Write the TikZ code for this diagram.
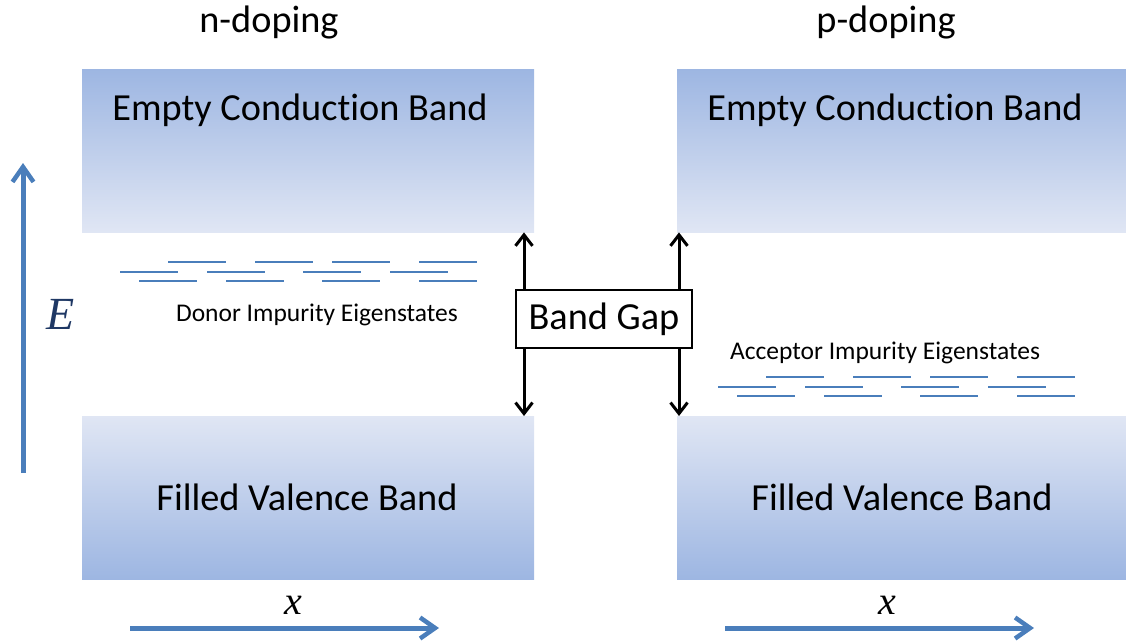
\documentclass[tikz,border=0pt]{standalone}
\usepackage{fontspec}
\setmainfont{Carlito}[Ligatures=NoCommon]
\newfontfamily\timesfont{Liberation Serif}
\usetikzlibrary{positioning,arrows.meta}

\definecolor{banddark}{HTML}{9DB6E2}
\definecolor{bandlight}{HTML}{E0E6F4}
\definecolor{levelblue}{HTML}{4A7EBB}
\definecolor{axisblue}{HTML}{4A7EBB}
\definecolor{labelblue}{HTML}{1F3864}

\newcommand*{\bandw}{452}
\newcommand*{\bandh}{163}

\begin{document}
\begin{tikzpicture}
[
	x=1pt, y=-1pt,
	cband/.style={rectangle,inner sep=0pt,anchor=north west,minimum height=\bandh pt,top color=banddark,bottom color=bandlight},
	vband/.style={rectangle,inner sep=0pt,anchor=north west,minimum height=\bandh pt,top color=bandlight,bottom color=banddark},
	bigtext/.style={anchor=base,font=\fontsize{38.3}{40}\selectfont},
	smalltext/.style={anchor=base,font=\fontsize{25.5}{27}\selectfont},
	level/.style={levelblue,line width=2.5pt},
	gaparrow/.style={-{Straight Barb[length=11pt,width=17pt,line width=3pt]},line width=3pt},
	axis/.style={-{Straight Barb[length=15pt,width=21pt,line width=4.5pt]},axisblue,line width=5pt}
]
	\useasboundingbox (0,0) rectangle (1126,641);

	% bands
	\node[cband,minimum width=\bandw pt] (lcb) at (82,69) {};
	\node[vband,minimum width=\bandw pt] (lvb) at (82,416) {};
	\node[cband,minimum width=449pt] (rcb) at (677,69) {};
	\node[vband,minimum width=449pt] (rvb) at (677,416) {};

	\node[bigtext] (lcbtext) at (300,120) {Empty Conduction Band};
	\node[bigtext] (rcbtext) at (895,120) {Empty Conduction Band};
	\node[bigtext] (lvbtext) at (307,510) {Filled Valence Band};
	\node[bigtext] (rvbtext) at (902,510) {Filled Valence Band};

	\node[bigtext] (ntitle) at (269,32) {n-doping};
	\node[bigtext] (ptitle) at (886,32) {p-doping};

	% impurity levels
	\foreach \dx/\dy in {0/0, 598/115}
	{
		\foreach \x in {168,255,332,419}
			\draw[level] (\x+\dx,262+\dy) -- ++(58,0);
		\foreach \x in {120,207,303,390}
			\draw[level] (\x+\dx,272+\dy) -- ++(58,0);
		\foreach \x in {139,226,322,419}
			\draw[level] (\x+\dx,281+\dy) -- ++(58,0);
	}
	\node[smalltext] (donor) at (317,321) {Donor Impurity Eigenstates};
	\node[smalltext] (acceptor) at (885,359) {Acceptor Impurity Eigenstates};

	% band gap
	\node[draw,line width=2pt,fill=white,minimum width=176pt,minimum height=58pt,inner sep=0pt,
		font=\fontsize{38.3}{40}\selectfont] (gap) at (604,319) {Band Gap};
	\coordinate (lgap) at (524,0);
	\coordinate (rgap) at (679,0);
	\draw[gaparrow] (gap.north -| lgap) -- (lcb.south -| lgap);
	\draw[gaparrow] (gap.south -| lgap) -- (lvb.north -| lgap);
	\draw[gaparrow] (gap.north -| rgap) -- (rcb.south -| rgap);
	\draw[gaparrow] (gap.south -| rgap) -- (rvb.north -| rgap);

	% axes
	\coordinate (ebot) at (23,473);
	\coordinate (etop) at (23,163);
	\draw[axis] (ebot) -- (etop);
	\node[labelblue,font=\timesfont\itshape\fontsize{46}{48}\selectfont] (elabel) at (61,314) {E};

	\coordinate (lxstart) at (130,628);
	\coordinate (lxend) at (439,628);
	\coordinate (rxstart) at (725,628);
	\coordinate (rxend) at (1034,628);
	\draw[axis] (lxstart) -- (lxend);
	\draw[axis] (rxstart) -- (rxend);
	\node[font=\timesfont\itshape\fontsize{40}{42}\selectfont] (lxlabel) at (293,605) {x};
	\node[font=\timesfont\itshape\fontsize{40}{42}\selectfont] (rxlabel) at (887,605) {x};

\end{tikzpicture}
\end{document}
